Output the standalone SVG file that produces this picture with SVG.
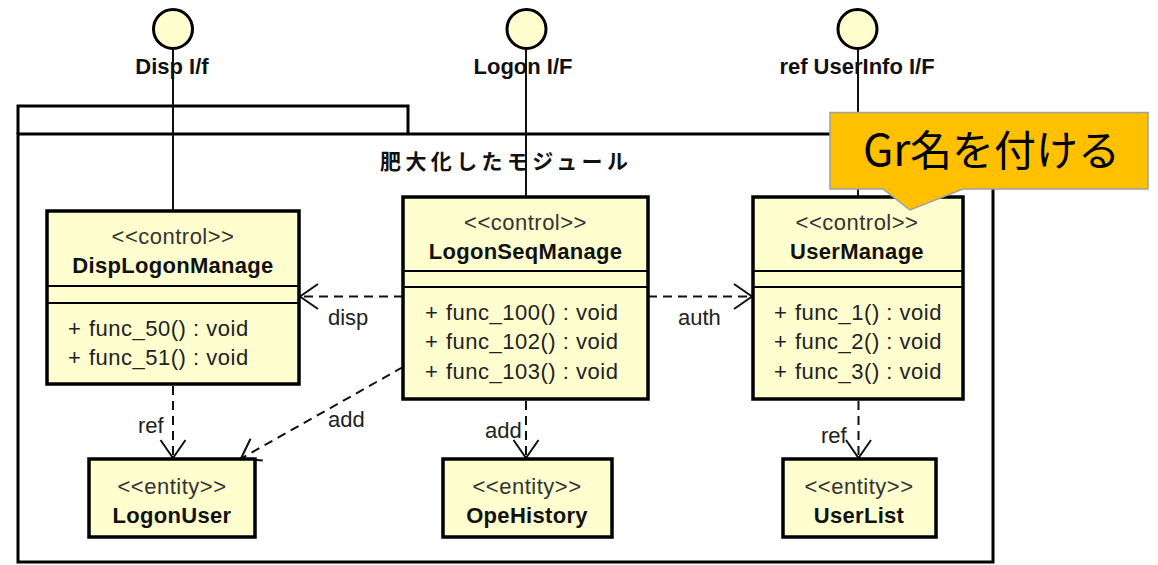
<svg xmlns="http://www.w3.org/2000/svg" width="1158" height="565" viewBox="0 0 1158 565">
  <style>
    .pkg { fill: none; stroke: #000; stroke-width: 3; }
    .cls { fill: #FEFECE; stroke: #000; stroke-width: 3.5; }
    .sep { stroke: #000; stroke-width: 2; }
    .ifc { fill: #FEFECE; stroke: #000; stroke-width: 3; }
    .lolly { stroke: #111; stroke-width: 2; }
    .dep { fill: none; stroke: #111; stroke-width: 2; stroke-dasharray: 9 6; }
    .txt { font-family: "Liberation Sans", Arial, sans-serif; font-size: 22px; letter-spacing: 0.5px; fill: #222; }
    .stereo { font-family: "Liberation Sans", Arial, sans-serif; font-size: 22px; letter-spacing: 0.5px; fill: #333; text-anchor: middle; }
    .name { font-family: "Liberation Sans", Arial, sans-serif; font-size: 22px; font-weight: bold; letter-spacing: 0.3px; fill: #111; text-anchor: middle; }
    .ilabel { font-family: "Liberation Sans", Arial, sans-serif; font-size: 22px; font-weight: bold; fill: #111; text-anchor: middle; }
    .elabel { font-family: "Liberation Sans", Arial, sans-serif; font-size: 22px; fill: #222; }
  </style>
  <defs>
    <marker id="open" viewBox="-21 -15 23 30" refX="0" refY="0" markerWidth="23" markerHeight="30" markerUnits="userSpaceOnUse" orient="auto">
      <path d="M-18,-12.5 L0,0 L-18,12.5" fill="none" stroke="#111" stroke-width="2" stroke-dasharray="none"/>
    </marker>
  </defs>

  <rect width="1158" height="565" fill="#fff"/>

  <!-- package frame with tab -->
  <g id="package">
    <path class="pkg" d="M18,134 V106 H408 V134"/>
    <rect class="pkg" x="18" y="134" width="975" height="428"/>
    <text x="380" y="169" textLength="248" lengthAdjust="spacing" style="font-family: 'Noto Sans CJK JP', sans-serif; font-size: 21px; font-weight: bold; fill: #111;">肥大化したモジュール</text>
  </g>

  <!-- provided interfaces (lollipops) -->
  <g id="if-disp">
    <line class="lolly" x1="173" y1="49" x2="173" y2="211"/>
    <circle class="ifc" cx="173" cy="29" r="19.5"/>
    <text class="ilabel" x="172" y="74">Disp I/f</text>
  </g>
  <g id="if-logon">
    <line class="lolly" x1="526" y1="49" x2="526" y2="197"/>
    <circle class="ifc" cx="526.5" cy="29" r="19.5"/>
    <text class="ilabel" x="523" y="74">Logon I/F</text>
  </g>
  <g id="if-userinfo">
    <line class="lolly" x1="858" y1="49" x2="858" y2="197"/>
    <circle class="ifc" cx="857.5" cy="29" r="19.5"/>
    <text class="ilabel" x="857" y="74">ref UserInfo I/F</text>
  </g>

  <!-- dependencies -->
  <g id="connectors">
    <line class="dep" x1="403" y1="296.5" x2="300" y2="296.5" marker-end="url(#open)"/>
    <line class="dep" x1="648" y1="296.5" x2="752" y2="296.5" marker-end="url(#open)"/>
    <line class="dep" x1="173" y1="386" x2="173" y2="458" marker-end="url(#open)"/>
    <line class="dep" x1="403" y1="367" x2="241" y2="458.5" marker-end="url(#open)"/>
    <line class="dep" x1="526" y1="401" x2="526" y2="458" marker-end="url(#open)"/>
    <line class="dep" x1="858.5" y1="401" x2="858.5" y2="458" marker-end="url(#open)"/>
    <text class="elabel" x="328" y="325">disp</text>
    <text class="elabel" x="678" y="325">auth</text>
    <text class="elabel" x="138" y="433">ref</text>
    <text class="elabel" x="328" y="427">add</text>
    <text class="elabel" x="485" y="438">add</text>
    <text class="elabel" x="821" y="443">ref</text>
  </g>

  <!-- control classes -->
  <g id="DispLogonManage">
    <rect class="cls" x="47" y="211" width="252" height="173"/>
    <line class="sep" x1="47" y1="286" x2="299" y2="286"/>
    <line class="sep" x1="47" y1="303" x2="299" y2="303"/>
    <text class="stereo" x="173" y="244">&lt;&lt;control&gt;&gt;</text>
    <text class="name" x="173" y="273">DispLogonManage</text>
    <text class="txt" x="68" y="336">+</text>
    <text class="txt" x="89" y="336">func_50() : void</text>
    <text class="txt" x="68" y="365">+</text>
    <text class="txt" x="89" y="365">func_51() : void</text>
  </g>

  <g id="LogonSeqManage">
    <rect class="cls" x="403" y="197" width="245" height="202"/>
    <line class="sep" x1="403" y1="271" x2="648" y2="271"/>
    <line class="sep" x1="403" y1="287" x2="648" y2="287"/>
    <text class="stereo" x="525.5" y="230">&lt;&lt;control&gt;&gt;</text>
    <text class="name" x="525.5" y="259">LogonSeqManage</text>
    <text class="txt" x="425" y="320">+</text>
    <text class="txt" x="446" y="320">func_100() : void</text>
    <text class="txt" x="425" y="349">+</text>
    <text class="txt" x="446" y="349">func_102() : void</text>
    <text class="txt" x="425" y="379">+</text>
    <text class="txt" x="446" y="379">func_103() : void</text>
  </g>

  <g id="UserManage">
    <rect class="cls" x="753" y="197" width="210" height="202"/>
    <line class="sep" x1="753" y1="271" x2="963" y2="271"/>
    <line class="sep" x1="753" y1="287" x2="963" y2="287"/>
    <text class="stereo" x="857" y="230">&lt;&lt;control&gt;&gt;</text>
    <text class="name" x="857" y="259">UserManage</text>
    <text class="txt" x="774" y="320">+</text>
    <text class="txt" x="795" y="320">func_1() : void</text>
    <text class="txt" x="774" y="349">+</text>
    <text class="txt" x="795" y="349">func_2() : void</text>
    <text class="txt" x="774" y="379">+</text>
    <text class="txt" x="795" y="379">func_3() : void</text>
  </g>

  <!-- entity classes -->
  <g id="LogonUser">
    <rect class="cls" x="89" y="459" width="166" height="78"/>
    <text class="stereo" x="172" y="494">&lt;&lt;entity&gt;&gt;</text>
    <text class="name" x="172" y="523">LogonUser</text>
  </g>
  <g id="OpeHistory">
    <rect class="cls" x="443" y="459" width="169" height="78"/>
    <text class="stereo" x="527" y="494">&lt;&lt;entity&gt;&gt;</text>
    <text class="name" x="527" y="523">OpeHistory</text>
  </g>
  <g id="UserList">
    <rect class="cls" x="783" y="459" width="153" height="78"/>
    <text class="stereo" x="859" y="494">&lt;&lt;entity&gt;&gt;</text>
    <text class="name" x="859" y="523">UserList</text>
  </g>

  <!-- callout annotation -->
  <g id="callout">
    <path d="M830,112.5 H1148 V189 H963 L910,210 L883,189 H830 Z" fill="#FFC000" stroke="#A0A0A0" stroke-width="1.5"/>
    <text x="863" y="166" style="font-family: 'Noto Sans CJK JP', sans-serif; font-size: 44px; fill: #000;">Gr<tspan x="910" style="font-size: 42px;">名を付ける</tspan></text>
  </g>
</svg>
